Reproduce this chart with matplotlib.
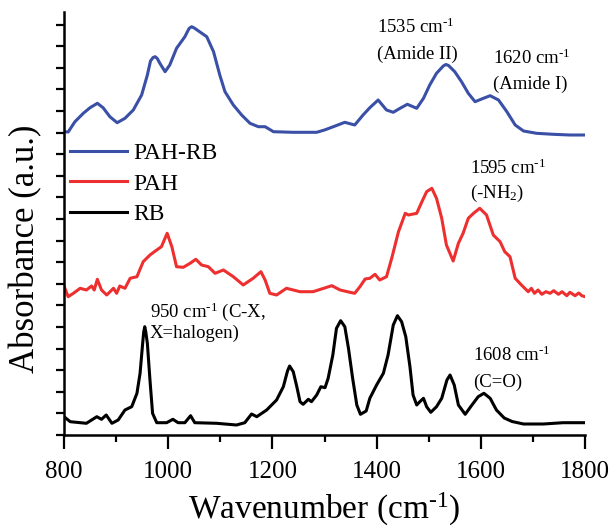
import matplotlib
matplotlib.use("Agg")
import matplotlib.pyplot as plt
from matplotlib.ticker import MultipleLocator, NullFormatter

plt.rcParams['font.family'] = ['Liberation Serif', 'DejaVu Serif']
plt.rcParams['mathtext.fontset'] = 'custom'
plt.rcParams['mathtext.rm'] = 'Liberation Serif'
plt.rcParams['mathtext.it'] = 'Liberation Serif:italic'

# ---- data (offset absorbance, arbitrary units) ----
pahrb_x = [800, 808, 821, 837, 850, 864, 875, 888, 902, 917, 933, 949, 960, 966, 971, 975, 979, 984, 994,
           1003, 1016, 1032, 1040, 1045, 1050, 1061, 1074, 1087, 1099, 1109, 1125, 1141, 1157, 1173, 1186,
           1202, 1240, 1285, 1300, 1317, 1339, 1358, 1374, 1387, 1403, 1419, 1432, 1445, 1459,
           1477, 1490, 1502, 1515, 1528, 1533, 1538, 1550, 1563, 1576, 1589, 1605, 1618, 1634, 1650,
           1666, 1682, 1707, 1739, 1771, 1800]
pahrb_y = [303.3, 303.0, 313.3, 321.7, 327.3, 331.7, 327.3, 318.3, 312.3, 316.7, 325, 340, 360,
           374, 377.5, 378.3, 376.5, 371.7, 363.3, 370, 386.7, 398.3, 406.5, 408.3, 407, 403, 398.3,
           383.3, 360, 343.3, 330, 320, 311.7, 308.3, 308.3, 303.3, 302.7, 302.7, 305, 308.3, 312.7,
           310, 320, 327.3, 335, 325, 322.7, 326.7, 330.7, 326.7, 336.7, 350, 361.7, 369, 370.5, 369.5,
           363.3, 353.3, 341.7, 333.3, 336.7, 339.3, 335, 323.3, 310, 304, 301.7, 300.7, 300, 300]

pah_x = [800, 808, 818, 831, 843, 853, 858, 864, 872, 882, 895, 901, 907, 917, 927, 940, 952, 965,
         978, 987, 998, 1007, 1016, 1029, 1042, 1053, 1064, 1077, 1090, 1106, 1125, 1144, 1163,
         1178, 1186, 1195, 1208, 1227, 1253, 1278, 1314, 1330, 1349, 1358, 1368, 1378, 1387, 1397,
         1406, 1419, 1429, 1442, 1455, 1461, 1477, 1487, 1496, 1506, 1515, 1525, 1534, 1547, 1557,
         1566, 1576, 1586, 1598, 1611, 1624, 1637, 1646, 1656, 1666, 1678, 1691, 1697, 1703, 1710,
         1717, 1725, 1733, 1740, 1749, 1756, 1765, 1771, 1781, 1788, 1794, 1800]
pah_y = [149, 138.3, 141.7, 146.7, 145, 149, 145, 155.7, 145, 140, 146.7, 141.7, 149, 146.7, 156.7,
         158.3, 173.3, 180, 185, 188.3, 201.7, 188.3, 168.3, 167.7, 171.7, 175.7, 170, 168.3, 161.7,
         165, 158.3, 150, 156.7, 163.3, 155, 141.7, 140, 146.7, 143.3, 143.3, 149.3, 145, 142.7,
         141.7, 148.3, 156, 156.7, 160.7, 155, 158.3, 176.7, 203.3, 221.7, 220, 221.7, 233.3, 243.3,
         246.7, 236.7, 216.7, 190, 174, 191.7, 201.7, 216.7, 221.7, 226.7, 220, 200, 193.3, 183.3,
         178.3, 156.7, 150, 143.3, 146.7, 141.7, 145, 140.7, 143.3, 141.7, 144.3, 140.7, 143.3,
         139.3, 142.7, 139.3, 142, 139.3, 138.3]

rb_x = [800, 812, 843, 863, 872, 881, 892, 904, 917, 930, 940, 946, 951, 953, 955, 957, 960, 965, 970, 978,
        997, 1009, 1019, 1032, 1043, 1051, 1093, 1131, 1147, 1160, 1170, 1189, 1208, 1221, 1229, 1233,
        1240, 1247, 1253, 1259, 1269, 1275, 1285, 1293, 1301, 1307, 1316, 1323, 1331, 1339, 1346, 1354,
        1362, 1369, 1380, 1387, 1400, 1413, 1422, 1432, 1440, 1448, 1456, 1464, 1470, 1477, 1483, 1490,
        1496, 1504, 1515, 1525, 1535, 1541, 1549, 1557, 1570, 1583, 1595, 1606, 1618, 1630, 1645, 1660,
        1682, 1720, 1758, 1800]
rb_y = [18.3, 13.3, 11.7, 18.3, 15.7, 20, 11.7, 15, 25, 28.3, 41.7, 61.7, 91.7, 103, 108.3, 103, 91.7,
        55, 21.7, 12.3, 12.3, 15.7, 12.3, 12.3, 19.3, 12.3, 11.7, 10, 12.3, 21, 18.3, 25, 35, 48.3, 64,
        69, 63.3, 48, 33.3, 30.7, 35.7, 33.3, 40, 48.3, 47.3, 56.7, 80, 106.7, 114.3, 108.3, 86.7, 56.7,
        30, 20.7, 24, 36.7, 50, 61.7, 80, 110, 119.3, 113.3, 98.3, 68.3, 40, 30, 33.3, 36.7, 28.3, 22.7,
        28.3, 36.7, 55, 60, 50, 30, 20.7, 30, 38.3, 41.7, 36.7, 25, 17, 13.5, 11, 11, 12.3, 12.3]

series_labels = ["PAH-RB", "PAH", "RB"]
xlabel_text = "Wavenumber (cm$^{\u20101}$)"
ylabel_text = "Absorbance (a.u.)"

annotations = [
    ("1535 cm$^{\u20101}$", 1401, 402),
    ("(Amide II)", 1401, 376),
    ("1620 cm$^{\u20101}$", 1623, 371.5),
    ("(Amide I)", 1623, 346.5),
    ("1595 cm$^{\u20101}$", 1579, 261),
    ("(-NH$_2$)", 1579, 237),
    ("950 cm$^{\u20101}$ (C-X,", 965, 118),
    ("X=halogen)", 965, 97),
    ("1608 cm$^{\u20101}$", 1585, 74),
    ("(C=O)", 1585, 48),
]

fig = plt.figure(figsize=(6.16, 5.29), dpi=100)
ax = fig.add_axes([64/616, (529-435)/529, (585-64)/616, 423/529])

lw = 2.2
ax.plot(pahrb_x, pahrb_y, color='#3a4fa6', lw=lw, label=series_labels[0], solid_joinstyle='round')
ax.plot(pah_x, pah_y, color='#ee2f2f', lw=lw, label=series_labels[1], solid_joinstyle='round')
ax.plot(rb_x, rb_y, color='black', lw=lw, label=series_labels[2], solid_joinstyle='round')

ax.set_xlim(800, 1800)
ax.set_ylim(0, 423)

for s in ['top', 'right']:
    ax.spines[s].set_visible(False)
for s in ['left', 'bottom']:
    ax.spines[s].set_linewidth(1.8)

ax.xaxis.set_major_locator(MultipleLocator(200))
ax.xaxis.set_minor_locator(MultipleLocator(100))
ax.yaxis.set_major_locator(MultipleLocator(21.6))
ax.yaxis.set_major_formatter(NullFormatter())
ax.tick_params(axis='x', which='major', direction='out', length=10, width=1.6, labelsize=18, pad=9)
ax.tick_params(axis='x', which='minor', direction='out', length=5, width=1.6)
ax.tick_params(axis='y', which='major', direction='out', length=6, width=1.6)

ax.set_xlabel(xlabel_text, fontsize=24, labelpad=5.5)
ax.set_ylabel(ylabel_text, fontsize=25)
ax.yaxis.set_label_coords(-0.042, 0.44)

for txt, x, y in annotations:
    ax.text(x, y, txt, fontsize=13.5, ha='left', va='baseline')

leg = ax.legend(loc='center left', bbox_to_anchor=(0.0115, 0.594), frameon=False,
                fontsize=17, handlelength=2.4, handletextpad=0.3, labelspacing=0.38,
                borderpad=0, borderaxespad=0)
for line in leg.get_lines():
    line.set_linewidth(lw)

fig.savefig("out.png", dpi=100, facecolor='white')
